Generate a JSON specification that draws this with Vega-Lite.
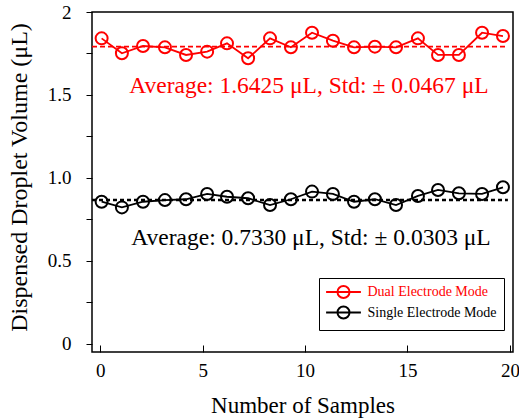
{
  "$schema": "https://vega.github.io/schema/vega-lite/v6.json",
  "width": 421,
  "height": 340,
  "autosize": "none",
  "padding": {"left": 92, "top": 12, "right": 6, "bottom": 66},
  "background": "#ffffff",
  "config": {
    "font": "Liberation Serif",
    "view": {"stroke": "#000000", "strokeWidth": 1.5},
    "axis": {"domain": false, "grid": false, "tickColor": "#000000", "labelColor": "#000000", "titleColor": "#000000", "labelFont": "Liberation Serif", "titleFont": "Liberation Serif", "titleFontWeight": "normal", "tickWidth": 1},
    "legend": {"labelFont": "Liberation Serif"}
  },
  "datasets": {
    "samples": [
      {"series": "Dual Electrode Mode", "x": 0.07, "y": 1.841},
      {"series": "Dual Electrode Mode", "x": 1.06, "y": 1.751},
      {"series": "Dual Electrode Mode", "x": 2.09, "y": 1.795},
      {"series": "Dual Electrode Mode", "x": 3.16, "y": 1.787},
      {"series": "Dual Electrode Mode", "x": 4.19, "y": 1.741},
      {"series": "Dual Electrode Mode", "x": 5.22, "y": 1.761},
      {"series": "Dual Electrode Mode", "x": 6.19, "y": 1.811},
      {"series": "Dual Electrode Mode", "x": 7.22, "y": 1.721},
      {"series": "Dual Electrode Mode", "x": 8.29, "y": 1.841},
      {"series": "Dual Electrode Mode", "x": 9.31, "y": 1.787},
      {"series": "Dual Electrode Mode", "x": 10.34, "y": 1.875},
      {"series": "Dual Electrode Mode", "x": 11.36, "y": 1.827},
      {"series": "Dual Electrode Mode", "x": 12.39, "y": 1.787},
      {"series": "Dual Electrode Mode", "x": 13.41, "y": 1.791},
      {"series": "Dual Electrode Mode", "x": 14.44, "y": 1.787},
      {"series": "Dual Electrode Mode", "x": 15.51, "y": 1.841},
      {"series": "Dual Electrode Mode", "x": 16.49, "y": 1.741},
      {"series": "Dual Electrode Mode", "x": 17.51, "y": 1.741},
      {"series": "Dual Electrode Mode", "x": 18.64, "y": 1.875},
      {"series": "Dual Electrode Mode", "x": 19.66, "y": 1.855},
      {"series": "Single Electrode Mode", "x": 0.07, "y": 0.856},
      {"series": "Single Electrode Mode", "x": 1.06, "y": 0.822},
      {"series": "Single Electrode Mode", "x": 2.09, "y": 0.856},
      {"series": "Single Electrode Mode", "x": 3.16, "y": 0.866},
      {"series": "Single Electrode Mode", "x": 4.19, "y": 0.871},
      {"series": "Single Electrode Mode", "x": 5.22, "y": 0.903},
      {"series": "Single Electrode Mode", "x": 6.19, "y": 0.886},
      {"series": "Single Electrode Mode", "x": 7.22, "y": 0.877},
      {"series": "Single Electrode Mode", "x": 8.29, "y": 0.836},
      {"series": "Single Electrode Mode", "x": 9.31, "y": 0.871},
      {"series": "Single Electrode Mode", "x": 10.34, "y": 0.917},
      {"series": "Single Electrode Mode", "x": 11.36, "y": 0.903},
      {"series": "Single Electrode Mode", "x": 12.39, "y": 0.856},
      {"series": "Single Electrode Mode", "x": 13.41, "y": 0.871},
      {"series": "Single Electrode Mode", "x": 14.44, "y": 0.836},
      {"series": "Single Electrode Mode", "x": 15.51, "y": 0.891},
      {"series": "Single Electrode Mode", "x": 16.49, "y": 0.927},
      {"series": "Single Electrode Mode", "x": 17.51, "y": 0.907},
      {"series": "Single Electrode Mode", "x": 18.64, "y": 0.903},
      {"series": "Single Electrode Mode", "x": 19.66, "y": 0.943}
    ],
    "averages": [
      {"series": "Dual Electrode Mode", "x": -0.4, "y": 1.791},
      {"series": "Dual Electrode Mode", "x": 19.9, "y": 1.791},
      {"series": "Single Electrode Mode", "x": -0.4, "y": 0.866},
      {"series": "Single Electrode Mode", "x": 19.9, "y": 0.866}
    ],
    "notes": [
      {"series": "Dual Electrode Mode", "x": 10.19, "y": 1.512, "label": "Average: 1.6425 μL, Std: ± 0.0467 μL"},
      {"series": "Single Electrode Mode", "x": 10.29, "y": 0.595, "label": "Average: 0.7330 μL, Std: ± 0.0303 μL"}
    ]
  },
  "encoding": {
    "x": {
      "field": "x", "type": "quantitative",
      "scale": {"domain": [-0.4, 20.15], "nice": false, "zero": false},
      "axis": {"values": [0, 5, 10, 15, 20], "tickSize": -7, "labelPadding": 16, "labelFont": "Liberation Serif", "labelFontSize": 19, "labelFlush": false, "labelOverlap": false, "title": "Number of Samples", "titleFont": "Liberation Serif", "titleFontWeight": "normal", "titleFontSize": 23, "titleY": 60, "titleBaseline": "alphabetic"}
    },
    "y": {
      "field": "y", "type": "quantitative",
      "scale": {"domain": [-0.05, 2], "nice": false, "zero": false},
      "axis": {"values": [0, 0.25, 0.5, 0.75, 1, 1.25, 1.5, 1.75, 2], "tickSize": 6, "labelPadding": 15, "labelFont": "Liberation Serif", "labelFontSize": 19, "labelOverlap": false,
        "labelExpr": "datum.value == 2 ? '2' : datum.value == 1.5 ? '1.5' : datum.value == 1 ? '1.0' : datum.value == 0.5 ? '0.5' : datum.value == 0 ? '0' : ''",
        "title": "Dispensed Droplet Volume (μL)", "titleFont": "Liberation Serif", "titleFontWeight": "normal", "titleFontSize": 24, "titleX": -66, "titleY": 165, "titleBaseline": "alphabetic"}
    }
  },
  "layer": [
    {
      "data": {"name": "averages"},
      "transform": [{"filter": "datum.series == 'Dual Electrode Mode'"}],
      "mark": {"type": "line", "color": "#ff0000", "strokeDash": [5, 3], "strokeWidth": 1.8}
    },
    {
      "data": {"name": "averages"},
      "transform": [{"filter": "datum.series == 'Single Electrode Mode'"}],
      "mark": {"type": "line", "color": "#000000", "strokeDash": [4, 3], "strokeWidth": 2.5}
    },
    {
      "data": {"name": "samples"},
      "mark": {"type": "line", "strokeWidth": 1.8, "point": {"filled": false, "size": 144, "strokeWidth": 2}},
      "encoding": {
        "color": {
          "field": "series", "type": "nominal",
          "scale": {"domain": ["Dual Electrode Mode", "Single Electrode Mode"], "range": ["#ff0000", "#000000"]},
          "legend": {
            "orient": "none", "legendX": 227, "legendY": 266, "title": null, "direction": "vertical",
            "symbolType": "M-2.9,0L2.9,0M1,0A1,1,0,1,1,-1,0A1,1,0,1,1,1,0",
            "symbolSize": 144, "symbolStrokeWidth": 2, "symbolFillColor": "transparent", "symbolOffset": 10.5,
            "labelFont": "Liberation Serif", "labelFontSize": 14, "labelOffset": 17, "labelLimit": 300,
            "strokeColor": "#000000", "fillColor": "#ffffff", "padding": 7, "rowPadding": 0.5,
            "encode": {"labels": {"update": {"fill": {"signal": "datum.value === 'Dual Electrode Mode' ? '#ff0000' : '#000000'"}}}}
          }
        }
      }
    },
    {
      "data": {"name": "notes"},
      "transform": [{"filter": "datum.series == 'Dual Electrode Mode'"}],
      "mark": {"type": "text", "color": "#ff0000", "fontSize": 23.5, "align": "center", "baseline": "alphabetic", "font": "Liberation Serif"},
      "encoding": {"text": {"field": "label"}}
    },
    {
      "data": {"name": "notes"},
      "transform": [{"filter": "datum.series == 'Single Electrode Mode'"}],
      "mark": {"type": "text", "color": "#000000", "fontSize": 23.5, "align": "center", "baseline": "alphabetic", "font": "Liberation Serif"},
      "encoding": {"text": {"field": "label"}}
    }
  ]
}
